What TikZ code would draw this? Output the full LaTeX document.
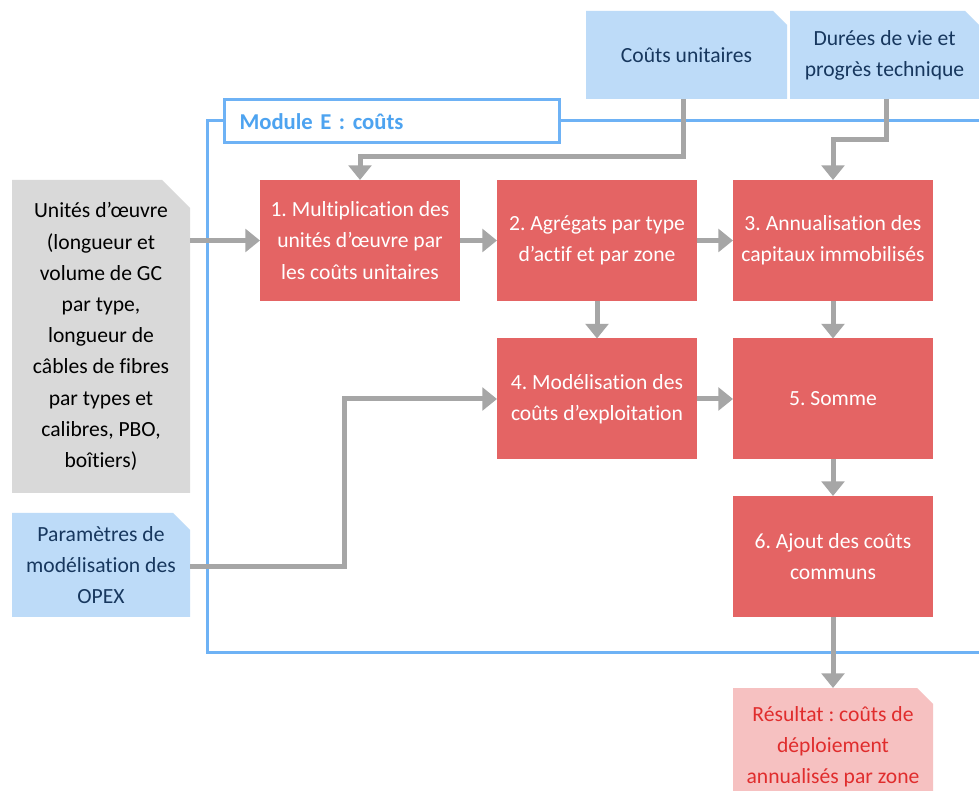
\documentclass[tikz,border=0pt]{standalone}
\usepackage{fontspec}
\setmainfont[Ligatures=NoCommon]{Carlito}
\usetikzlibrary{arrows.meta,backgrounds,calc}
\pgfdeclarelayer{bottom}
\pgfsetlayers{bottom,background,main}
\frenchspacing
\definecolor{lblue}{RGB}{189,219,248}
\definecolor{lgrey}{RGB}{217,217,217}
\definecolor{bred}{RGB}{228,100,100}
\definecolor{lpink}{RGB}{246,193,193}
\definecolor{rtext}{RGB}{224,45,45}
\definecolor{dblue}{RGB}{23,55,94}
\definecolor{fblue}{RGB}{110,178,245}
\definecolor{tblue}{RGB}{77,163,240}
\definecolor{agrey}{RGB}{166,166,166}
\tikzset{
  base/.style={inner sep=0pt, outer sep=0pt, align=center, font=\fontsize{16.2}{23.4}\selectfont},
  redbox/.style={base, fill=bred, text=white, minimum width=150pt, minimum height=90.75pt},
  inbox/.style={base, minimum width=#1},
  arr/.style={draw=agrey, line width=3.75pt, -{Triangle[width=17pt,length=11pt]}},
}
\begin{document}
\begin{tikzpicture}[x=0.75pt,y=-0.75pt]
\clip (0,0) rectangle (979,791);
\begin{pgfonlayer}{bottom}
\fill[white] (0,0) rectangle (979,791);
\end{pgfonlayer}
% module frame
\draw[fblue, line width=2.25pt] (207,121) rectangle (1000,652);
\node[base, draw=fblue, line width=2.25pt, fill=white, minimum width=251.25pt, minimum height=32.25pt, text=tblue, font=\fontsize{17}{20}\selectfont\bfseries, text width=228pt, align=left] (title) at (391.5,121.5) {Module E : coûts};
% input nodes
\node[inbox=150.75pt, minimum height=66pt, text=dblue] (cu) at (686.5,55) {Coûts unitaires};
\node[inbox=141.75pt, minimum height=66pt, text=dblue] (dv) at (884.5,55) {Durées de vie et\\progrès technique};
\node[inbox=133.5pt, minimum height=234.75pt, text=black] (uo) at (101,336.5) {Unités d’œuvre\\(longueur et\\volume de GC\\par type,\\longueur de\\câbles de fibres\\par types et\\calibres, PBO,\\boîtiers)};
\node[inbox=133.5pt, minimum height=78pt, text=dblue] (par) at (101,565) {Paramètres de\\modélisation des\\OPEX};
\node[inbox=150pt, minimum height=88.5pt, text=rtext] (res) at (833,747) {Résultat : coûts de\\déploiement\\annualisés par zone};
\begin{scope}[on background layer]
  \fill[lblue] (cu.south west) |- ([xshift=-10.5pt]cu.north east) -- ([yshift=-10.5pt]cu.north east) |- cycle;
  \fill[lblue] (dv.south west) |- ([xshift=-10.5pt]dv.north east) -- ([yshift=-10.5pt]dv.north east) |- cycle;
  \fill[lgrey] (uo.south west) |- ([xshift=-21pt]uo.north east) -- ([yshift=-21pt]uo.north east) |- cycle;
  \fill[lblue] (par.south west) |- ([xshift=-12.75pt]par.north east) -- ([yshift=-12.75pt]par.north east) |- cycle;
  \fill[lpink] (res.south west) |- ([xshift=-12pt]res.north east) -- ([yshift=-12pt]res.north east) |- cycle;
\end{scope}
% process nodes
\node[redbox] (b1) at (360,240.5) {1. Multiplication des\\unités d’œuvre par\\les coûts unitaires};
\node[redbox] (b2) at (597,240.5) {2. Agrégats par type\\d’actif et par zone};
\node[redbox] (b3) at (833,240.5) {3. Annualisation des\\capitaux immobilisés};
\node[redbox] (b4) at (597,399) {4. Modélisation des\\coûts d’exploitation};
\node[redbox] (b5) at (833,399) {5. Somme};
\node[redbox] (b6) at (833,556.5) {6. Ajout des coûts\\communs};
% connectors
\coordinate (e1) at (683,157);
\coordinate (e2) at (886,140);
\coordinate (e3) at (344,567);
\draw[arr] (cu.south -| e1) -- (e1) -| (b1.north);
\draw[arr] (dv.south -| e2) -- (e2) -| (b3.north);
\draw[arr] (uo.east |- b1) -- (b1.west);
\draw[arr] (b1.east) -- (b2.west);
\draw[arr] (b2.east) -- (b3.west);
\draw[arr] (b2.south) -- (b4.north);
\draw[arr] (b3.south) -- (b5.north);
\draw[arr] (par.east |- e3) -- (e3) |- (b4.west);
\draw[arr] (b4.east) -- (b5.west);
\draw[arr] (b5.south) -- (b6.north);
\draw[arr] (b6.south) -- (res.north);
\end{tikzpicture}
\end{document}
